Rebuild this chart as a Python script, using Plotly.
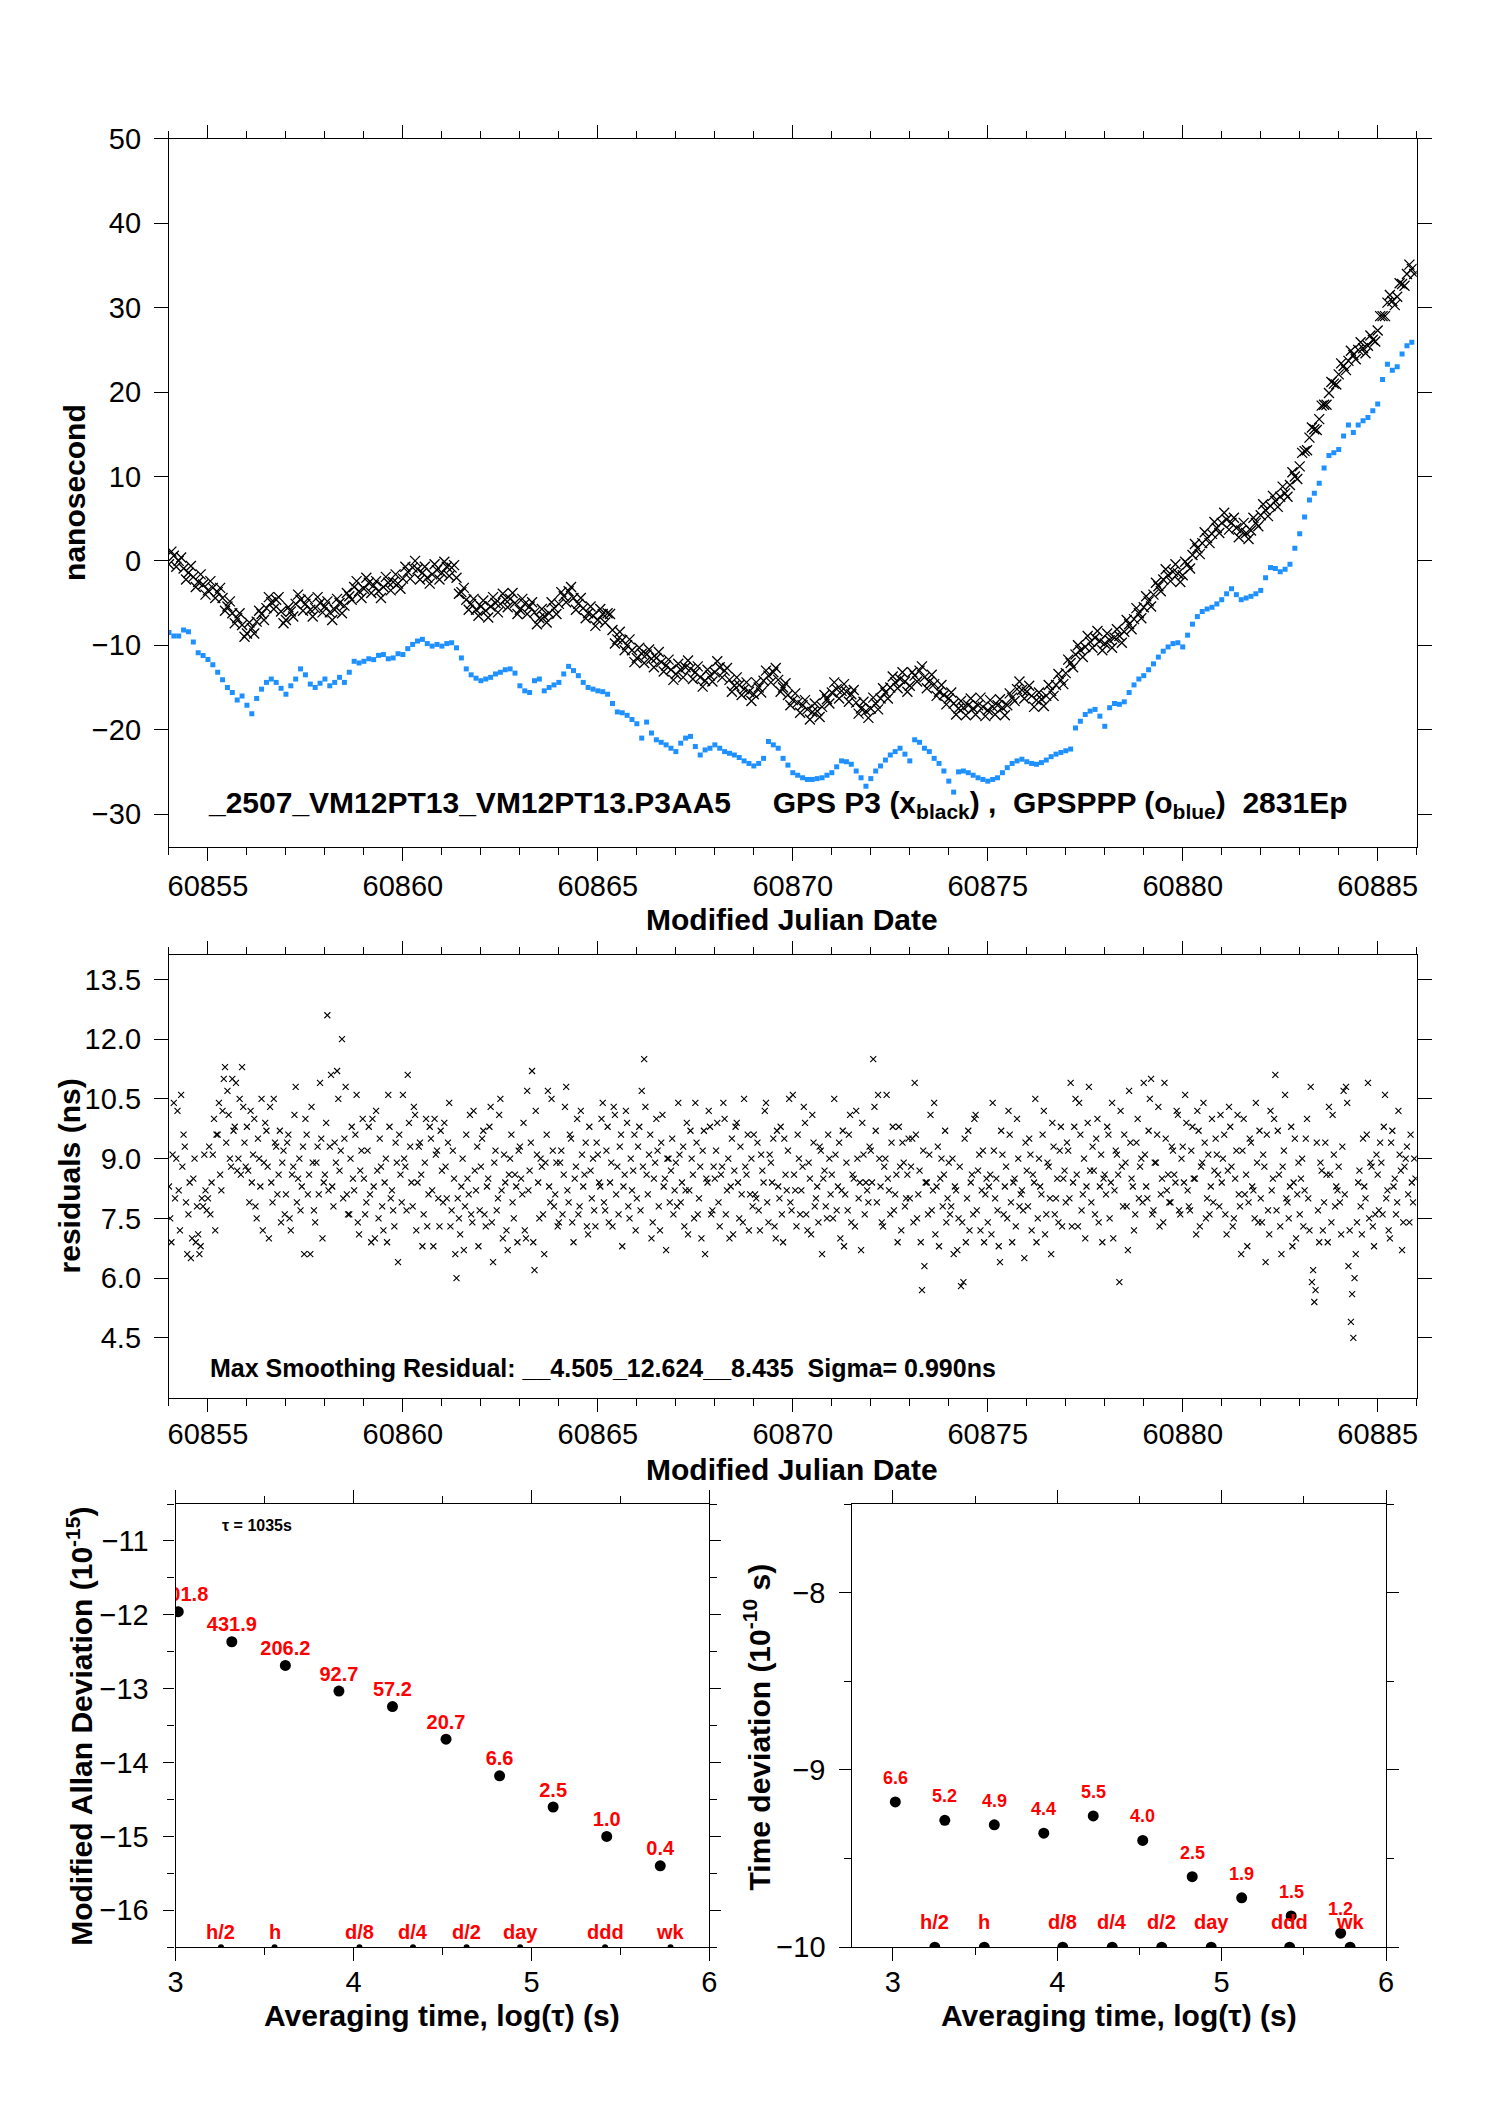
import math
import plotly.graph_objects as go

W, H = 1488, 2105
FONT = "Liberation Sans, Arial, Helvetica, sans-serif"

# ---------------- data: top panel, GPS P3 (black), 16 samples per day from MJD 60854 ----------------
MJD_START = 60854.0
BLACK_STEP = 0.0625
black_rows = [
    [-0.4, 1.1, 0.6, -0.7, 0.0, 0.4, -0.9, -2.2, -1.4, -0.6, -1.9, -3.1, -2.5, -1.6, -2.8, -4.0],
    [-3.5, -2.4, -3.2, -4.4, -3.7, -3.2, -4.4, -5.9, -5.4, -4.8, -6.2, -7.4, -6.8, -6.2, -7.6, -9.0],
    [-8.6, -7.3, -8.0, -8.6, -7.2, -5.9, -6.3, -7.0, -5.6, -4.3, -4.9, -5.7, -4.6, -4.3, -6.0, -7.4],
    [-7.0, -5.5, -6.0, -6.6, -5.1, -4.0, -4.6, -5.9, -5.1, -4.5, -5.8, -6.6, -5.6, -4.3, -5.0, -6.1],
    [-5.4, -4.8, -6.1, -7.0, -5.8, -4.5, -5.0, -6.2, -5.3, -3.8, -4.2, -4.6, -3.1, -2.4, -3.6, -4.4],
    [-3.3, -2.0, -2.6, -3.8, -2.9, -2.4, -3.6, -4.4, -3.1, -1.9, -2.6, -3.5, -2.5, -1.6, -2.7, -3.3],
    [-2.1, -0.7, -1.3, -2.1, -0.8, 0.0, -1.0, -2.2, -1.4, -0.7, -2.0, -2.7, -1.6, -0.4, -1.1, -2.2],
    [-1.4, -0.1, -0.7, -1.8, -0.8, -0.5, -2.0, -3.9, -3.7, -3.2, -4.6, -5.8, -5.1, -4.5, -5.8, -6.5],
    [-5.4, -4.7, -5.9, -6.7, -5.4, -4.3, -5.0, -6.1, -5.1, -3.9, -4.6, -5.5, -4.5, -3.8, -5.0, -6.3],
    [-5.8, -4.5, -5.1, -6.3, -5.4, -4.9, -6.1, -7.5, -6.8, -5.7, -6.6, -7.3, -6.2, -4.9, -5.6, -6.3],
    [-5.1, -3.7, -4.2, -4.9, -3.6, -3.1, -4.4, -5.8, -5.1, -4.4, -5.6, -6.8, -6.2, -5.4, -6.5, -7.7],
    [-7.0, -5.7, -6.3, -7.3, -6.2, -6.3, -8.2, -9.8, -9.3, -8.4, -9.4, -10.6, -10.0, -9.3, -10.6, -12.0],
    [-11.5, -10.3, -11.0, -12.1, -11.1, -10.5, -11.6, -12.6, -11.5, -10.8, -12.0, -13.1, -12.4, -11.7, -12.9, -14.1],
    [-13.4, -12.2, -12.9, -13.8, -12.6, -11.8, -12.8, -14.0, -13.2, -12.5, -13.8, -14.9, -14.2, -12.9, -13.6, -14.3],
    [-13.2, -11.9, -12.6, -13.8, -13.0, -12.7, -14.1, -15.5, -14.8, -13.8, -14.7, -15.9, -15.2, -14.4, -15.5, -16.6],
    [-15.8, -14.4, -15.0, -15.6, -14.2, -13.0, -13.6, -14.4, -13.2, -12.7, -14.1, -15.5, -15.0, -14.5, -15.9, -17.1],
    [-16.5, -15.7, -16.8, -18.0, -17.1, -16.5, -17.6, -18.8, -17.9, -16.9, -17.8, -18.5, -17.3, -15.9, -16.4, -16.9],
    [-15.6, -14.4, -15.2, -16.3, -15.4, -14.6, -15.5, -16.7, -15.8, -15.3, -16.8, -18.1, -17.5, -16.7, -17.8, -18.6],
    [-17.5, -16.2, -16.9, -17.6, -16.3, -15.1, -15.6, -16.3, -15.0, -13.7, -14.4, -15.1, -14.0, -13.2, -14.3, -15.5],
    [-14.8, -13.2, -13.6, -14.3, -13.0, -12.5, -13.8, -15.1, -14.3, -13.5, -14.6, -16.0, -15.5, -14.7, -15.9, -17.0],
    [-16.3, -15.6, -16.9, -18.2, -17.5, -16.6, -17.4, -18.3, -17.1, -16.3, -17.5, -18.2, -17.1, -16.2, -17.3, -18.4],
    [-17.7, -16.5, -17.3, -18.2, -17.1, -16.4, -17.4, -18.3, -17.1, -15.7, -16.2, -16.6, -15.2, -14.3, -15.3, -16.3],
    [-15.5, -14.8, -16.0, -17.3, -16.5, -15.6, -16.4, -17.2, -16.0, -14.7, -15.4, -16.0, -14.7, -13.4, -14.1, -14.6],
    [-13.3, -11.7, -12.1, -12.6, -11.1, -10.0, -10.6, -11.4, -10.2, -8.9, -9.6, -10.3, -9.1, -8.3, -9.5, -10.6],
    [-9.8, -8.6, -9.4, -10.3, -9.1, -8.1, -8.9, -9.7, -8.4, -7.0, -7.5, -8.1, -6.9, -5.6, -6.2, -6.8],
    [-5.5, -4.2, -4.8, -5.4, -4.0, -2.6, -3.0, -3.6, -2.2, -1.0, -1.7, -2.4, -1.3, -0.4, -1.5, -2.5],
    [-1.7, -0.1, -0.4, -0.9, 0.7, 2.0, 1.5, 0.8, 2.1, 3.4, 2.7, 2.1, 3.2, 4.6, 3.9, 3.3],
    [4.5, 5.7, 4.9, 3.7, 4.5, 5.1, 3.9, 2.8, 3.6, 4.5, 3.3, 2.6, 3.6, 5.1, 4.5, 4.1],
    [5.4, 6.7, 6.0, 5.3, 6.5, 7.7, 7.1, 6.4, 7.6, 8.8, 8.0, 7.6, 9.0, 10.5, 10.0, 9.7],
    [11.2, 12.8, 13.0, 13.1, 14.6, 15.8, 15.6, 15.5, 16.8, 18.4, 18.5, 18.5, 19.9, 21.2, 21.0, 20.9],
    [22.1, 23.4, 23.1, 22.6, 23.7, 24.9, 24.4, 23.9, 25.0, 25.9, 25.2, 24.6, 25.5, 26.7, 26.2, 26.0],
    [27.3, 29.0, 29.0, 29.0, 30.6, 31.5, 30.8, 30.3, 31.3, 32.9, 32.8, 32.6, 34.0, 35.1, 34.6, 34.0],
]

# ---------------- data: top panel, GPSPPP (blue), 8 samples per day ----------------
BLUE_STEP = 0.125
blue_rows = [
    [-8.5, -8.9, -8.9, -8.2, -8.4, -9.6, -10.9, -11.2],
    [-11.7, -12.3, -13.2, -14.1, -15.0, -15.6, -16.5, -16.0],
    [-17.1, -18.1, -16.3, -15.2, -14.4, -14.0, -14.4, -15.1],
    [-15.8, -14.8, -14.0, -12.8, -13.5, -14.6, -15.0, -14.5],
    [-14.0, -14.8, -14.4, -13.8, -14.4, -13.2, -11.9, -12.1],
    [-11.9, -11.6, -11.7, -11.2, -11.1, -11.6, -11.5, -11.0],
    [-11.1, -10.4, -9.9, -9.5, -9.3, -9.8, -10.1, -9.9],
    [-10.1, -9.8, -9.7, -10.3, -11.5, -12.8, -13.5, -13.9],
    [-14.2, -14.0, -13.8, -13.4, -13.2, -12.9, -12.8, -13.3],
    [-14.8, -15.4, -15.6, -14.2, -14.0, -15.4, -15.0, -14.7],
    [-14.4, -13.4, -12.5, -13.0, -13.6, -14.4, -15.0, -15.2],
    [-15.4, -15.5, -15.8, -16.9, -17.9, -18.0, -18.3, -18.8],
    [-19.3, -21.0, -19.1, -20.4, -21.2, -21.5, -21.8, -22.2],
    [-22.6, -21.6, -21.0, -20.8, -22.0, -23.0, -22.4, -22.2],
    [-21.8, -22.2, -22.6, -22.8, -23.0, -23.3, -23.7, -24.0],
    [-24.3, -24.0, -23.4, -21.4, -21.8, -22.2, -23.4, -24.2],
    [-25.1, -25.4, -25.7, -25.9, -25.9, -25.8, -25.7, -25.4],
    [-25.1, -24.4, -23.7, -23.8, -24.1, -24.9, -25.7, -26.7],
    [-25.8, -24.9, -24.3, -23.6, -23.0, -22.6, -22.2, -22.9],
    [-23.7, -21.2, -21.5, -22.2, -22.6, -23.4, -24.0, -24.9],
    [-26.1, -27.4, -25.0, -24.9, -25.1, -25.4, -25.7, -25.9],
    [-26.1, -25.9, -25.7, -25.1, -24.5, -24.0, -23.7, -23.5],
    [-23.8, -24.0, -24.1, -23.9, -23.6, -23.2, -22.9, -22.7],
    [-22.5, -22.3, -19.8, -19.0, -18.2, -17.8, -17.6, -18.4],
    [-19.6, -17.4, -16.9, -17.0, -16.7, -15.6, -14.7, -14.0],
    [-13.6, -12.9, -12.2, -11.4, -10.7, -10.2, -9.8, -9.7],
    [-10.2, -8.8, -7.5, -6.6, -6.0, -5.7, -5.5, -5.1],
    [-4.6, -3.9, -3.3, -4.0, -4.6, -4.4, -4.2, -3.9],
    [-3.5, -2.0, -0.8, -0.9, -1.3, -1.0, -0.4, 1.5],
    [3.2, 5.2, 7.2, 8.0, 9.2, 11.0, 12.5, 12.8],
    [13.2, 14.8, 16.1, 15.2, 16.1, 16.6, 17.0, 17.8],
    [18.6, 21.5, 23.3, 22.6, 23.0, 24.5, 25.5, 25.9],
]

# ---------------- data: residuals (ns), two interleaved sets of 16 samples per day ----------------
RES_STEP = 0.0625
RES_B_OFFSET = 0.03125
residual_rows_a = [
    [8.3, 6.9, 10.4, 9.0, 8.2, 10.6, 9.6, 7.9, 7.6, 6.5, 8.5, 6.9, 7.1, 6.8, 7.8, 8.2],
    [8.0, 7.6, 9.1, 7.2, 9.6, 8.6, 10.2, 11.3, 10.7, 9.0, 11.0, 9.8, 8.7, 10.5, 11.3, 9.4],
    [9.8, 7.9, 8.4, 10.0, 7.5, 9.0, 10.5, 8.9, 9.7, 7.0, 8.4, 10.5, 9.3, 8.6, 7.4, 9.2],
    [8.1, 9.6, 7.2, 8.8, 10.8, 8.5, 7.7, 9.3, 10.0, 8.1, 6.6, 8.9, 7.4, 9.3, 10.9, 7.0],
    [8.6, 12.6, 9.3, 8.3, 9.4, 11.2, 8.7, 12.0, 9.5, 8.1, 7.6, 9.8, 8.2, 10.6, 7.1, 9.2],
    [8.5, 7.9, 9.8, 6.9, 8.3, 10.2, 7.5, 8.8, 7.2, 9.0, 10.6, 8.0, 7.7, 9.4, 6.4, 8.6],
    [10.6, 8.8, 11.1, 9.3, 7.8, 10.1, 8.4, 9.4, 6.8, 8.9, 7.3, 9.8, 8.2, 10.0, 9.2, 7.3],
    [8.7, 9.9, 8.0, 10.4, 7.7, 8.5, 6.0, 7.5, 8.3, 6.7, 9.6, 8.1, 7.6, 10.2, 8.2, 6.8],
    [8.8, 9.7, 7.3, 8.5, 10.3, 6.4, 9.2, 8.0, 10.5, 7.0, 8.4, 6.7, 9.0, 7.9, 8.6, 6.9],
    [9.3, 8.1, 7.2, 10.7, 8.7, 11.2, 6.2, 9.1, 7.5, 8.8, 6.6, 9.6, 8.3, 10.5, 7.8, 8.9],
    [7.4, 9.2, 8.6, 10.8, 7.9, 9.5, 6.9, 8.8, 7.6, 10.2, 8.3, 9.4, 7.1, 8.7, 9.0, 7.3],
    [9.1, 8.3, 10.4, 7.7, 9.8, 8.4, 7.3, 10.1, 8.8, 9.3, 6.8, 8.6, 9.9, 7.5, 8.2, 9.6],
    [8.0, 9.8, 10.7, 11.5, 8.6, 9.1, 7.0, 8.5, 10.0, 7.8, 9.4, 8.3, 6.7, 9.0, 8.7, 7.6],
    [8.9, 10.4, 7.9, 9.3, 8.2, 7.1, 9.7, 8.6, 10.4, 7.6, 8.8, 9.2, 6.6, 8.4, 9.8, 7.7],
    [8.5, 9.9, 7.3, 8.8, 10.0, 8.2, 7.0, 9.5, 8.7, 9.9, 7.5, 8.1, 10.5, 8.6, 7.2, 9.0],
    [9.6, 8.0, 7.7, 9.1, 8.4, 10.4, 7.4, 8.9, 9.5, 7.0, 8.3, 9.8, 6.9, 8.6, 9.2, 7.9],
    [10.6, 8.2, 9.6, 7.6, 8.8, 9.9, 7.2, 8.5, 10.1, 7.8, 8.3, 9.3, 6.6, 8.7, 7.5, 9.0],
    [8.6, 10.5, 7.7, 9.4, 8.2, 6.8, 8.9, 9.6, 7.4, 8.5, 10.2, 8.0, 6.7, 9.1, 8.4, 7.9],
    [9.2, 11.5, 9.7, 10.6, 8.3, 7.3, 9.0, 8.5, 7.6, 9.8, 8.1, 6.9, 8.8, 9.4, 7.8, 8.6],
    [8.0, 9.5, 10.9, 7.5, 8.7, 5.7, 6.3, 8.4, 9.1, 7.7, 10.4, 8.3, 6.8, 9.0, 8.6, 7.4],
    [8.9, 7.8, 6.6, 8.2, 7.5, 5.8, 5.9, 6.9, 9.7, 8.4, 7.6, 10.1, 8.7, 7.2, 9.2, 8.1],
    [7.4, 8.6, 10.4, 8.0, 7.7, 6.4, 9.1, 8.3, 7.5, 9.6, 6.9, 8.5, 10.0, 7.8, 8.2, 6.5],
    [8.7, 9.5, 7.2, 8.4, 6.9, 9.0, 8.1, 10.2, 7.6, 8.8, 6.6, 9.3, 8.0, 7.4, 9.8, 8.5],
    [7.9, 9.2, 10.9, 8.4, 10.5, 7.3, 9.6, 8.1, 7.0, 9.9, 8.7, 9.3, 7.6, 10.0, 8.3, 6.9],
    [8.6, 9.8, 7.5, 10.4, 8.2, 9.1, 5.9, 8.8, 9.6, 7.8, 10.7, 8.5, 7.2, 9.4, 8.0, 9.0],
    [10.9, 8.3, 9.7, 11.0, 7.7, 8.9, 10.3, 8.1, 7.4, 9.5, 8.6, 7.9, 9.2, 8.4, 10.1, 7.6],
    [9.3, 10.6, 8.2, 7.7, 9.8, 8.5, 10.2, 7.3, 8.9, 9.4, 8.0, 7.6, 10.0, 8.7, 9.1, 7.8],
    [8.4, 9.6, 7.1, 10.3, 8.8, 7.5, 9.2, 8.1, 6.6, 10.0, 8.6, 7.9, 9.4, 8.2, 10.4, 7.4],
    [8.0, 9.1, 6.4, 7.7, 10.2, 8.5, 11.1, 9.7, 7.3, 8.8, 10.6, 7.9, 8.3, 6.8, 9.5, 8.1],
    [7.6, 9.0, 8.2, 10.0, 7.2, 5.9, 5.4, 9.4, 6.9, 8.7, 7.9, 8.6, 10.3, 7.4, 9.1, 8.3],
    [8.8, 7.1, 10.7, 10.8, 6.3, 4.9, 4.5, 6.6, 8.4, 7.8, 9.5, 8.0, 10.9, 8.9, 7.3, 7.6],
    [8.6, 9.4, 7.6, 10.6, 8.2, 7.0, 9.7, 8.5, 7.9, 9.1, 6.7, 8.8, 9.3, 7.4, 8.4, 9.0],
]
residual_rows_b = [
    [7.5, 9.1, 8.0, 10.2, 7.2, 8.8, 9.3, 6.6, 8.4, 7.0, 9.0, 7.8, 6.6, 8.0, 9.1, 7.7],
    [9.3, 8.4, 10.0, 9.6, 10.4, 8.2, 11.0, 9.4, 10.1, 8.8, 9.7, 10.9, 9.0, 8.6, 10.3, 8.8],
    [8.7, 10.2, 9.1, 7.8, 9.5, 8.3, 7.2, 9.9, 8.8, 10.3, 7.9, 9.4, 8.1, 9.7, 8.9, 7.6],
    [9.4, 7.5, 8.6, 10.1, 7.9, 9.0, 8.3, 6.6, 9.6, 8.6, 10.3, 7.7, 8.9, 8.1, 9.5, 8.4],
    [9.9, 8.2, 11.1, 7.8, 8.9, 10.5, 9.2, 8.0, 10.8, 7.6, 9.0, 8.5, 9.6, 7.4, 8.7, 10.0],
    [7.6, 9.2, 8.1, 10.0, 7.0, 8.7, 9.5, 7.8, 8.4, 6.9, 9.8, 8.2, 7.3, 8.9, 9.6, 7.9],
    [9.0, 7.7, 9.9, 8.4, 10.3, 7.2, 9.3, 8.6, 7.6, 10.0, 8.1, 9.5, 6.8, 9.1, 8.0, 9.7],
    [7.9, 8.8, 9.4, 7.3, 9.2, 6.6, 8.0, 7.1, 9.0, 7.8, 8.5, 10.1, 7.4, 8.7, 9.3, 7.7],
    [9.5, 7.6, 8.3, 9.8, 7.4, 8.9, 7.7, 10.1, 8.2, 9.1, 7.2, 8.6, 9.6, 7.5, 8.3, 9.2],
    [8.5, 9.9, 7.0, 8.2, 9.4, 6.9, 10.2, 8.4, 9.0, 7.6, 8.9, 10.7, 7.9, 9.2, 8.1, 7.3],
    [8.9, 7.6, 10.3, 8.2, 9.6, 7.4, 8.5, 10.0, 7.8, 9.1, 8.6, 7.3, 9.8, 8.0, 7.7, 9.4],
    [8.4, 10.0, 7.9, 9.2, 7.4, 8.9, 10.3, 8.1, 7.6, 9.6, 8.3, 10.2, 7.8, 9.0, 8.7, 7.2],
    [9.3, 7.7, 8.8, 10.3, 8.1, 9.6, 7.4, 8.9, 9.2, 7.2, 10.1, 8.5, 9.0, 7.9, 9.5, 8.2],
    [7.8, 9.1, 8.4, 7.3, 9.9, 8.2, 9.0, 7.5, 9.4, 8.0, 7.0, 9.7, 8.5, 10.2, 7.6, 8.8],
    [9.2, 7.9, 8.6, 10.4, 7.6, 9.0, 8.3, 7.1, 9.8, 8.4, 9.3, 7.4, 8.8, 9.6, 8.1, 7.8],
    [8.1, 9.4, 7.2, 8.7, 10.2, 7.9, 9.1, 8.4, 7.3, 9.7, 8.0, 7.6, 9.5, 8.2, 10.5, 7.7],
    [8.6, 7.3, 9.0, 8.2, 10.3, 7.6, 8.9, 7.1, 9.4, 8.0, 7.4, 9.2, 8.5, 7.8, 9.6, 8.1],
    [7.5, 9.1, 8.3, 7.0, 9.7, 8.1, 7.7, 10.1, 8.6, 7.3, 9.0, 8.4, 9.9, 7.6, 8.2, 9.3],
    [8.4, 10.3, 7.9, 9.0, 7.4, 8.8, 10.6, 8.2, 9.4, 7.7, 8.6, 9.8, 7.2, 8.9, 8.0, 9.5],
    [8.8, 7.4, 9.6, 8.1, 6.9, 9.2, 8.4, 7.6, 10.1, 8.2, 7.1, 9.3, 8.5, 7.8, 9.7, 8.0],
    [7.6, 9.0, 8.3, 6.7, 8.8, 7.4, 9.5, 8.0, 7.2, 8.6, 10.0, 7.7, 9.1, 8.2, 6.9, 8.5],
    [8.3, 7.1, 9.2, 8.5, 6.8, 9.7, 7.6, 8.8, 10.2, 7.9, 8.4, 7.3, 9.0, 8.1, 7.7, 9.4],
    [7.8, 9.1, 8.6, 10.5, 7.5, 8.3, 9.6, 7.1, 8.9, 8.0, 9.9, 7.6, 8.5, 9.2, 7.3, 8.7],
    [9.4, 8.0, 7.3, 9.8, 8.6, 10.4, 7.7, 9.0, 8.3, 10.8, 7.9, 8.7, 9.5, 7.4, 9.1, 8.5],
    [8.1, 9.6, 8.4, 7.0, 9.2, 8.6, 10.2, 7.8, 8.9, 6.7, 9.4, 8.3, 7.6, 10.0, 8.8, 7.9],
    [9.1, 8.0, 10.5, 7.6, 8.9, 9.6, 7.3, 8.5, 10.9, 8.2, 7.9, 9.3, 8.6, 10.2, 7.7, 9.0],
    [8.4, 9.9, 7.8, 9.2, 8.5, 7.1, 9.7, 8.8, 10.4, 7.5, 9.1, 8.3, 7.9, 9.5, 8.6, 10.1],
    [9.0, 7.6, 8.7, 9.8, 7.3, 8.5, 10.1, 7.8, 9.2, 8.1, 6.8, 9.5, 8.3, 7.5, 8.9, 9.7],
    [7.4, 8.8, 9.6, 7.1, 8.2, 10.0, 7.7, 8.6, 6.6, 9.2, 8.0, 7.5, 9.8, 8.4, 7.0, 8.9],
    [8.5, 7.3, 9.5, 8.0, 10.8, 6.2, 5.7, 7.7, 8.9, 7.2, 9.4, 6.9, 8.6, 10.1, 7.8, 8.2],
    [7.9, 9.3, 8.1, 10.4, 7.2, 5.6, 6.0, 7.4, 8.7, 7.1, 8.3, 9.6, 7.5, 8.8, 6.8, 9.1],
    [7.7, 8.9, 9.8, 8.0, 7.2, 9.4, 8.3, 7.6, 10.2, 8.7, 7.4, 9.0, 8.1, 9.6, 7.9, 8.5],
]

# ---------------- data: stability panels ----------------
tau_log = [3.015, 3.316, 3.617, 3.918, 4.219, 4.520, 4.821, 5.122, 5.423, 5.724]
mdev_e15 = [1101.8, 431.9, 206.2, 92.7, 57.2, 20.7, 6.6, 2.5, 1.0, 0.4]
mdev_labels = ["1101.8", "431.9", "206.2", "92.7", "57.2", "20.7", "6.6", "2.5", "1.0", "0.4"]
tdev_e10 = [6.6, 5.2, 4.9, 4.4, 5.5, 4.0, 2.5, 1.9, 1.5, 1.2]
tdev_labels = ["6.6", "5.2", "4.9", "4.4", "5.5", "4.0", "2.5", "1.9", "1.5", "1.2"]
period_labels = ["h/2", "h", "d/8", "d/4", "d/2", "day", "ddd", "wk"]
period_seconds = [1800, 3600, 10800, 21600, 43200, 86400, 259200, 604800]


# ---------------- flatten day rows onto the MJD axis ----------------
def flatten(rows, step, offset=0.0):
    xs, ys = [], []
    for d, row in enumerate(rows):
        for k, v in enumerate(row):
            xs.append(MJD_START + d + offset + step * k)
            ys.append(v)
    return xs, ys


black_x, black_y = flatten(black_rows, BLACK_STEP)
blue_x, blue_y = flatten(blue_rows, BLUE_STEP)
res_xa, res_ya = flatten(residual_rows_a, RES_STEP)
res_xb, res_yb = flatten(residual_rows_b, RES_STEP, RES_B_OFFSET)
res_x = res_xa + res_xb
res_y = res_ya + res_yb
mdev_log = [math.log10(v) - 15 for v in mdev_e15]
tdev_log = [math.log10(v) - 10 for v in tdev_e10]
period_log = [math.log10(s) for s in period_seconds]


def px(x):
    return x / W


def py(y):
    return 1 - y / H


fig = go.Figure()

# top panel
fig.add_trace(go.Scatter(x=blue_x, y=blue_y, mode="markers", xaxis="x", yaxis="y",
                         marker=dict(symbol="square", size=5, color="#1E90FF", line=dict(width=0)),
                         hoverinfo="skip"))
fig.add_trace(go.Scatter(x=black_x, y=black_y, mode="markers", xaxis="x", yaxis="y",
                         marker=dict(symbol="x-thin", size=10, color="black", line=dict(width=1.3, color="black")),
                         hoverinfo="skip"))
# residuals
fig.add_trace(go.Scatter(x=res_x, y=res_y, mode="markers", xaxis="x2", yaxis="y2",
                         marker=dict(symbol="x-thin", size=6, color="black", line=dict(width=1.1, color="black")),
                         hoverinfo="skip"))
# MDEV
fig.add_trace(go.Scatter(x=tau_log, y=mdev_log, mode="markers", xaxis="x3", yaxis="y3",
                         marker=dict(symbol="circle", size=11, color="black"), cliponaxis=True, hoverinfo="skip"))
fig.add_trace(go.Scatter(x=tau_log, y=mdev_log, mode="markers+text", xaxis="x3", yaxis="y3",
                         text=["<b>%s</b>" % t for t in mdev_labels], textposition="top center",
                         textfont=dict(color="red", size=20, family=FONT),
                         marker=dict(symbol="circle", size=7, color="rgba(0,0,0,0)"),
                         cliponaxis=True, hoverinfo="skip"))
fig.add_trace(go.Scatter(x=period_log, y=[-16.5] * len(period_log), mode="markers", xaxis="x3", yaxis="y3",
                         marker=dict(symbol="circle", size=6, color="black"), cliponaxis=True, hoverinfo="skip"))
# TDEV
fig.add_trace(go.Scatter(x=tau_log, y=tdev_log, mode="markers", xaxis="x4", yaxis="y4",
                         marker=dict(symbol="circle", size=11, color="black"), cliponaxis=True, hoverinfo="skip"))
fig.add_trace(go.Scatter(x=period_log, y=[-10.0] * len(period_log), mode="markers", xaxis="x4", yaxis="y4",
                         marker=dict(symbol="circle", size=11, color="black"), cliponaxis=True, hoverinfo="skip"))


def ax(**kw):
    base = dict(showline=True, linecolor="black", linewidth=1.2, mirror="ticks", ticks="outside",
                tickcolor="black", tickwidth=1.2, showgrid=False, zeroline=False,
                tickfont=dict(size=29, color="black", family=FONT))
    base.update(kw)
    return base


def minor(d, **kw):
    m = dict(dtick=d, ticklen=7, ticks="outside", tickcolor="black", tickwidth=1.2, showgrid=False)
    m.update(kw)
    return m


TOP_X = [px(162.7), px(1424)]

layout = dict(
    width=W, height=H, margin=dict(l=0, r=0, t=0, b=0), autosize=False,
    paper_bgcolor="white", plot_bgcolor="white", showlegend=False,
    font=dict(family=FONT, color="black"),
    xaxis=ax(domain=TOP_X, anchor="y", range=[60854.0, 60886.0], tickmode="linear", tick0=60855, dtick=5,
             ticklen=13, minor=minor(1), tickformat="d", ticklabelstandoff=0),
    yaxis=ax(domain=[py(843.8), py(124.8)], anchor="x", range=[-33.9, 50], tickmode="linear", tick0=0, dtick=10,
             ticklen=14, ticklabelstandoff=7),
    xaxis2=ax(domain=TOP_X, anchor="y2", range=[60854.0, 60886.0], tickmode="linear", tick0=60855, dtick=5,
              ticklen=13, minor=minor(1), tickformat="d", ticklabelstandoff=-2),
    yaxis2=ax(domain=[py(1402.9), py(953.2)], anchor="x2", range=[3.0, 14.12], tickmode="array",
              tickvals=[4.5, 6.0, 7.5, 9.0, 10.5, 12.0, 13.5],
              ticktext=["4.5", "6.0", "7.5", "9.0", "10.5", "12.0", "13.5"], ticklen=14, ticklabelstandoff=7),
    xaxis3=ax(domain=[px(169.4), px(709)], anchor="y3", range=[3, 6], tickmode="linear", tick0=3, dtick=1,
              ticklen=13, minor=minor(0.5), ticklabelstandoff=-4),
    yaxis3=ax(domain=[py(1961), py(1511)], anchor="x3", range=[-16.5, -10.5], tickmode="linear", tick0=-11, dtick=1,
              ticklen=11, minor=minor(0.5), ticklabelstandoff=9),
    xaxis4=ax(domain=[px(853.6), px(1393)], anchor="y4", range=[2.754, 6], tickmode="linear", tick0=3, dtick=1,
              ticklen=13, minor=minor(0.5, tick0=3), ticklabelstandoff=-4),
    yaxis4=ax(domain=[py(1961), py(1511)], anchor="x4", range=[-10, -7.5], tickmode="linear", tick0=-10, dtick=1,
              ticklen=12, minor=minor(0.5), ticklabelstandoff=8),
)

NB = "\u00a0"
ann = []
ann.append(dict(x=px(200), y=py(801), xref="paper", yref="paper", xanchor="left", yanchor="middle",
                text="<b>_2507_VM12PT13_VM12PT13.P3AA5" + NB * 5 + "GPS P3 (x<sub>black</sub>) ," + NB * 2 +
                     "GPSPPP (o<sub>blue</sub>)" + NB * 2 + "2831Ep</b>",
                font=dict(size=30, color="black"), showarrow=False))
ann.append(dict(x=px(202), y=py(1373), xref="paper", yref="paper", xanchor="left", yanchor="middle",
                text="<b>Max Smoothing Residual: __4.505_12.624__8.435" + NB * 2 + "Sigma= 0.990ns</b>",
                font=dict(size=25, color="black"), showarrow=False))
ann.append(dict(x=px(214), y=py(1533), xref="paper", yref="paper", xanchor="left", yanchor="middle",
                text="<b>\u03c4 = 1035s</b>", font=dict(size=16, color="black"), showarrow=False))
# axis titles
ann.append(dict(x=px(67), y=py(484), xref="paper", yref="paper", textangle=-90, xanchor="center",
                yanchor="middle", text="<b>nanosecond</b>", font=dict(size=30), showarrow=False))
ann.append(dict(x=px(793), y=py(917), xref="paper", yref="paper", xanchor="center", yanchor="middle",
                text="<b>Modified Julian Date</b>", font=dict(size=30), showarrow=False))
ann.append(dict(x=px(62), y=py(1178), xref="paper", yref="paper", textangle=-90, xanchor="center",
                yanchor="middle", text="<b>residuals (ns)</b>", font=dict(size=30), showarrow=False))
ann.append(dict(x=px(793), y=py(1476), xref="paper", yref="paper", xanchor="center", yanchor="middle",
                text="<b>Modified Julian Date</b>", font=dict(size=30), showarrow=False))
ann.append(dict(x=px(72), y=py(1737), xref="paper", yref="paper", textangle=-90, xanchor="center",
                yanchor="middle", text="<b>Modified Allan Deviation (10<sup>-15</sup>)</b>", font=dict(size=30),
                showarrow=False))
ann.append(dict(x=px(439), y=py(2030), xref="paper", yref="paper", xanchor="center", yanchor="middle",
                text="<b>Averaging time, log(\u03c4) (s)</b>", font=dict(size=30), showarrow=False))
ann.append(dict(x=px(757), y=py(1737), xref="paper", yref="paper", textangle=-90, xanchor="center",
                yanchor="middle", text="<b>Time deviation (10<sup>-10</sup> s)</b>", font=dict(size=30),
                showarrow=False))
ann.append(dict(x=px(1123), y=py(2030), xref="paper", yref="paper", xanchor="center", yanchor="middle",
                text="<b>Averaging time, log(\u03c4) (s)</b>", font=dict(size=30), showarrow=False))
# period labels
for xl, lab in zip(period_log, period_labels):
    ann.append(dict(x=xl, y=-16.5, xref="x3", yref="y3", yshift=15, xanchor="center", yanchor="middle",
                    text="<b>%s</b>" % lab, font=dict(size=20, color="red"), showarrow=False))
    ann.append(dict(x=xl, y=-10.0, xref="x4", yref="y4", yshift=25, xanchor="center", yanchor="middle",
                    text="<b>%s</b>" % lab, font=dict(size=20, color="red"), showarrow=False))
# TDEV value labels
for xl, yl, lab in zip(tau_log, tdev_log, tdev_labels):
    ann.append(dict(x=xl, y=yl, xref="x4", yref="y4", yshift=24, xanchor="center", yanchor="middle",
                    text="<b>%s</b>" % lab, font=dict(size=18, color="red"), showarrow=False))

layout["annotations"] = ann
fig.update_layout(**layout)
fig.write_html("out.html", config={"displayModeBar": False},
               post_script="document.body.style.margin='0';")
